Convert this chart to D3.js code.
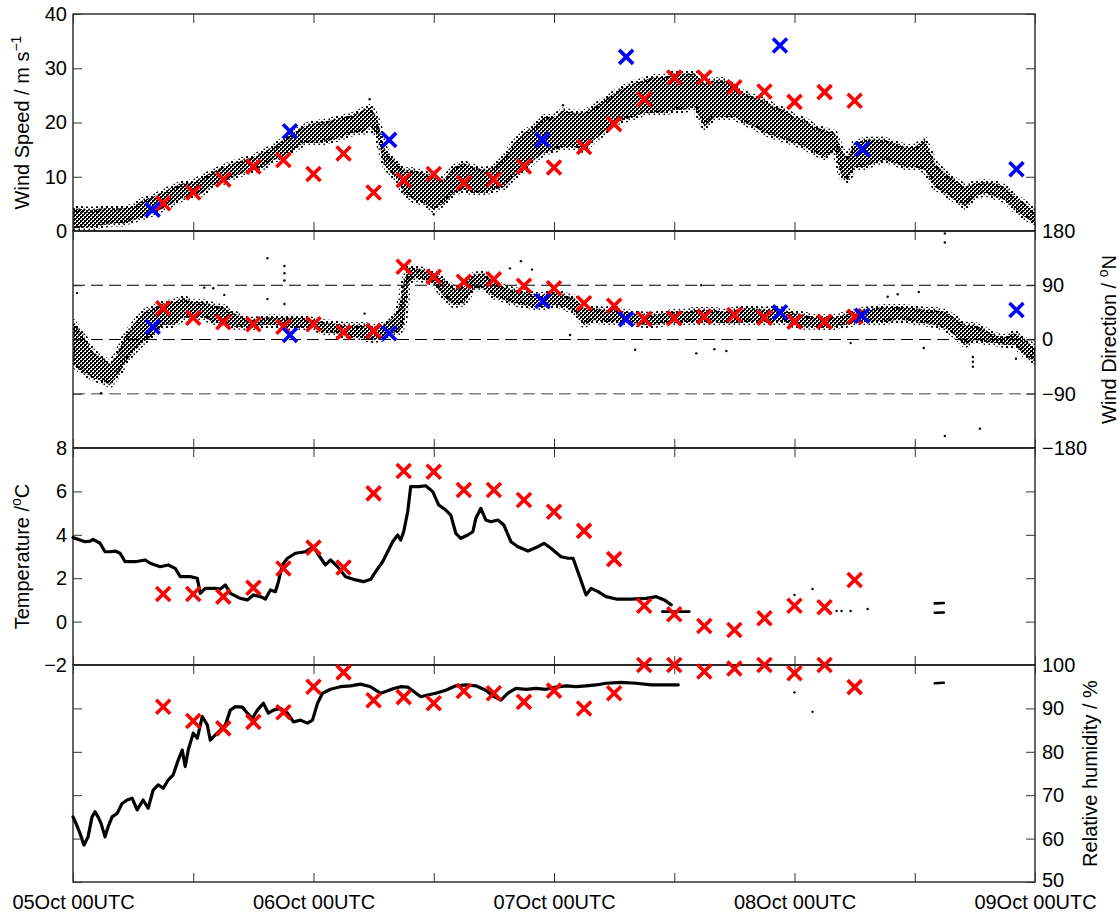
<!DOCTYPE html>
<html>
<head>
<meta charset="utf-8">
<script src="https://cdn.jsdelivr.net/npm/d3@7"></script>
<style>
  body { margin: 0; background: #fff; }
  text { font-family: "Liberation Sans", Arial, Helvetica, sans-serif; fill: #000; }
</style>
</head>
<body>
<svg id="chart" width="1119" height="913"></svg>
<script>
// ---- time axis (hours after 05 Oct 00UTC) ----
const xTickHours = [0, 12, 24, 36, 48, 60, 72, 84, 96];
const dayHours = [0, 24, 48, 72, 96];
const dayLabels = ["05Oct 00UTC", "06Oct 00UTC", "07Oct 00UTC", "08Oct 00UTC", "09Oct 00UTC"];

// ---- y tick values ----
const speedTicks = [0, 10, 20, 30, 40];
const dirTicks = [-180, -90, 0, 90, 180];
const dirTickLabels = ["\u2212180", "\u221290", "0", "90", "180"];
const tempTicks = [-2, 0, 2, 4, 6, 8];
const tempTickLabels = ["\u22122", "0", "2", "4", "6", "8"];
const rhTicks = [50, 60, 70, 80, 90, 100];
const dirGuides = [90, 0, -90];

// ---- ship observations (red) every 3 h ----
const obsHours = [9, 12, 15, 18, 21, 24, 27, 30, 33, 36, 39, 42, 45, 48, 51, 54, 57, 60, 63, 66, 69, 72, 75, 78];
const obsSpeed = [5.1, 7.1, 9.5, 11.9, 13.1, 10.5, 14.3, 7.1, 9.4, 10.5, 8.9, 9.5, 11.9, 11.7, 15.5, 19.7, 24.3, 28.3, 28.3, 26.5, 25.7, 23.8, 25.6, 24.0];
const obsDir = [51.7, 36.2, 28.5, 25.2, 21.3, 25.2, 11.9, 14.3, 120.8, 104.2, 95.9, 99.8, 89.3, 84.9, 60.0, 56.1, 34.0, 35.2, 37.8, 40.6, 36.2, 29.5, 29.5, 37.8];
const obsTemp = [1.27, 1.27, 1.15, 1.56, 2.45, 3.41, 2.49, 5.91, 6.94, 6.91, 6.06, 6.06, 5.60, 5.06, 4.18, 2.88, 0.73, 0.34, -0.20, -0.39, 0.15, 0.73, 0.66, 1.92];
const obsRH = [90.4, 87.1, 85.4, 86.9, 89.1, 95.0, 98.3, 91.9, 92.6, 91.2, 94.0, 93.5, 91.5, 94.1, 90.0, 93.5, 100, 100, 98.5, 99.2, 100, 98.1, 100, 94.9];

// ---- satellite retrievals (blue) ----
const satHours = [7.95, 21.65, 31.55, 46.85, 55.2, 70.55, 78.75, 94.15];
const satSpeed = [3.9, 18.4, 16.8, 16.8, 32.1, 34.2, 15.1, 11.4];
const satDir = [21.2, 7.5, 10.3, 63.9, 33.5, 45.1, 39.5, 48.9];

// ---- 1-min wind speed spread: [hour, low, high] ----
const windSpeedRange = [
  [0, 0.5, 4.2], [1, 0.6, 4.0], [2, 0.7, 3.9], [3, 1.1, 4.2], [4, 1.4, 4.2], [5, 1.4, 4.2],
  [6, 2.0, 4.5], [7, 2.6, 5.7], [8, 3.3, 6.3], [9, 4.2, 7.2], [10, 5.1, 8.1], [11, 6.1, 8.8],
  [12, 6.6, 9.0], [13, 7.0, 10.0], [14, 8.5, 10.9], [15, 9.0, 11.8], [16, 10.0, 12.5], [17, 10.7, 13.1],
  [18, 11.2, 13.6], [19, 11.8, 14.6], [20, 13.1, 15.5], [21, 13.6, 16.8], [22, 14.9, 18.1], [23, 16.2, 19.2],
  [24, 16.2, 19.9], [25, 16.4, 20.1], [26, 16.8, 20.5], [27, 17.4, 21.0], [28, 18.1, 21.4], [29, 18.3, 22.3],
  [29.7, 19.2, 22.9], [30.4, 17.4, 20.5], [31.0, 12.5, 15.5], [31.7, 10.7, 13.6], [32.4, 9.4, 12.5],
  [33, 7.0, 11.2], [34, 5.7, 11.2], [35, 5.1, 10.7], [36, 3.9, 10.0], [37, 5.1, 9.4], [38, 7.0, 11.8],
  [39, 7.6, 12.5], [40, 7.0, 11.8], [41, 7.0, 11.2], [42, 7.6, 11.8], [43, 8.1, 13.6], [44, 10.0, 16.2],
  [45, 11.2, 18.1], [46, 13.1, 19.2], [47, 14.4, 21.0], [48, 14.9, 21.0], [49, 15.5, 22.3], [50, 15.5, 21.8],
  [51, 14.9, 21.8], [52, 16.8, 22.9], [53, 18.1, 24.1], [54, 19.9, 25.4], [55, 20.5, 26.5], [56, 21.0, 27.3],
  [57, 21.8, 27.8], [58, 21.8, 28.4], [59, 21.8, 28.4], [60, 22.3, 29.1], [61, 22.3, 29.0], [62, 22.9, 29.1],
  [63, 19.2, 27.3], [64, 21.0, 27.8], [65, 21.0, 27.8], [66, 21.0, 26.5], [67, 19.9, 25.4], [68, 19.2, 24.7],
  [69, 18.1, 24.1], [70, 17.4, 22.9], [71, 16.8, 22.3], [72, 16.2, 21.0], [73, 15.5, 20.5], [74, 14.4, 19.2],
  [75, 13.6, 18.6], [76, 14.9, 18.1], [76.7, 10.0, 14.9], [77.3, 9.4, 13.6], [78, 11.8, 16.2], [79, 11.8, 16.8],
  [80, 12.5, 16.8], [81, 13.1, 16.8], [82, 12.5, 16.2], [83, 11.8, 15.5], [84, 11.8, 15.5], [85, 11.2, 16.8],
  [86, 8.1, 12.5], [87, 7.0, 10.7], [88, 5.7, 9.4], [89, 4.5, 8.1], [90, 6.3, 8.8], [91, 7.0, 9.0],
  [92, 6.3, 8.8], [93, 5.7, 8.1], [94, 3.9, 6.3], [95, 2.6, 5.1], [96, 1.4, 3.5]
];
const windSpeedStray = [[29.6, 24.3], [48.9, 23.2], [36.0, 3.1]];

// ---- 1-min wind direction spread: [hour, low, high] ----
const windDirRange = [
  [0, -42, 29], [1, -54, 7], [2, -64, -21], [3, -70, -31], [3.7, -75, -42], [4.5, -59, -21],
  [5.2, -38, 7], [6, -21, 24], [7, -4, 46], [8, 7, 52], [9, 24, 60], [10, 24, 62], [11, 36, 69],
  [12, 36, 62], [13, 37, 62], [14, 29, 57], [15, 27, 54], [16, 21, 44], [17, 21, 36], [18, 19, 32],
  [19, 24, 36], [20, 24, 37], [21, 21, 36], [22, 19, 36], [23, 19, 36], [24, 19, 32], [25, 12, 29],
  [26, 11, 27], [27, 7, 24], [28, 4, 24], [29, 2, 24], [30, -1, 21], [31, 2, 24], [32, 11, 37],
  [32.5, 12, 52], [33, 24, 95], [33.5, 95, 119], [34, 102, 119], [35, 99, 115], [36, 94, 110],
  [37, 71, 99], [38, 57, 85], [39, 60, 87], [40, 85, 107], [41, 85, 110], [42, 71, 95], [43, 66, 87],
  [44, 60, 82], [45, 57, 79], [46, 54, 74], [47, 54, 74], [48, 57, 79], [49, 54, 74], [50, 46, 69],
  [51, 24, 52], [52, 32, 52], [53, 29, 49], [54, 29, 52], [55, 27, 46], [56, 27, 44], [57, 24, 41],
  [58, 24, 41], [59, 27, 44], [60, 27, 46], [61, 29, 46], [62, 29, 49], [63, 29, 49], [64, 29, 49],
  [65, 27, 46], [66, 27, 49], [67, 29, 52], [68, 29, 52], [69, 29, 49], [70, 29, 52], [71, 29, 49],
  [72, 24, 44], [73, 21, 41], [74, 21, 37], [75, 19, 37], [76, 21, 37], [77, 24, 41], [78, 27, 46],
  [79, 29, 49], [80, 29, 52], [81, 29, 54], [82, 32, 54], [83, 32, 54], [84, 29, 52], [85, 27, 49],
  [86, 24, 49], [87, 19, 46], [88, 7, 36], [89, -9, 24], [90, -1, 24], [91, -4, 16], [92, -6, 7],
  [93, -9, 4], [94, -9, 11], [95, -26, -1], [96, -37, -14]
];
const windDirStray = [
  [0.4, 77], [13.1, 86], [14.0, 85], [15.1, 74], [19.4, 135], [19.4, 67], [21.1, 122], [21.1, 110],
  [21.1, 98], [21.1, 59], [2.8, -89], [29.1, 43], [44.7, 130], [45.8, 116], [43.6, 118], [49.6, 7.5],
  [56.1, -17], [62.2, -23], [62.7, 90], [64.0, -16], [65.2, -19], [87.0, 176], [87.0, 161], [87.0, -160],
  [90.5, -148], [89.8, -29], [89.8, -37], [89.8, -45], [77.6, -6], [84.9, -14], [81.3, 71], [82.3, 75],
  [84.4, 79], [94.1, -32]
];

// ---- air temperature trace: [hour, degC] ----
const tempTrace = [
  [0, 3.87], [0.7, 3.76], [1.2, 3.68], [1.7, 3.71], [2, 3.79], [2.7, 3.61], [3.2, 3.22], [3.7, 3.22],
  [4.2, 3.25], [4.7, 3.15], [5.2, 2.76], [6.2, 2.76], [7.2, 2.84], [7.7, 2.69], [8.7, 2.53], [9.5, 2.61],
  [10.2, 2.45], [10.7, 2.07], [11.7, 2.07], [12.4, 2.0], [12.7, 1.30], [13.2, 1.53], [14.2, 1.53],
  [14.7, 1.5], [15.2, 1.69], [15.7, 1.30], [16.7, 1.07], [17.4, 1.0], [18, 1.23], [18.7, 1.15],
  [19.2, 1.04], [19.7, 1.46], [20.2, 1.38], [20.5, 1.84], [20.9, 2.61], [21.4, 2.92], [22.2, 3.15],
  [23.2, 3.22], [24, 3.45], [24.5, 3.07], [25.2, 2.61], [25.7, 2.84], [26.4, 2.53], [27.2, 2.07],
  [28.2, 1.92], [29.0, 1.84], [29.7, 1.95], [30.2, 2.30], [30.9, 2.76], [31.4, 3.22], [31.9, 3.68],
  [32.4, 3.99], [32.7, 3.76], [33.0, 4.14], [33.4, 5.06], [33.7, 6.22], [34.5, 6.22], [35.2, 6.26],
  [35.9, 5.99], [36.5, 5.37], [37.2, 5.14], [37.7, 4.91], [38.2, 4.07], [38.7, 3.84], [39.4, 3.99],
  [39.9, 4.14], [40.2, 4.76], [40.7, 5.22], [41.2, 4.68], [41.7, 4.60], [42.4, 4.68], [43.0, 4.45],
  [43.7, 3.68], [44.4, 3.45], [45.4, 3.25], [46.4, 3.45], [47.0, 3.61], [47.7, 3.38], [48.7, 2.99],
  [49.4, 2.92], [49.9, 2.92], [50.5, 2.15], [51.2, 1.23], [51.7, 1.53], [52.4, 1.38], [53.2, 1.15],
  [54.2, 1.04], [55.7, 1.04], [57.2, 1.07], [58.2, 1.15], [59.0, 1.0], [59.7, 0.77]
];
const tempPieces = [[[58.8, 0.46], [61.5, 0.46]], [[86.0, 0.84], [86.9, 0.86]], [[86.0, 0.41], [86.9, 0.42]]];
const tempStray = [[72.0, 1.23], [73.8, 1.50], [76.2, 0.49], [76.7, 0.49], [77.6, 0.49], [79.3, 0.58]];

// ---- relative humidity trace: [hour, %] ----
const rhTrace = [
  [0, 65.0], [0.3, 63.5], [0.7, 61.2], [1.1, 58.5], [1.5, 60.4], [1.9, 65.0], [2.2, 66.2], [2.5, 65.0],
  [2.8, 63.5], [3.2, 60.4], [3.5, 62.7], [3.9, 65.0], [4.4, 65.8], [4.9, 68.1], [5.4, 68.9], [5.9, 69.3],
  [6.4, 66.6], [7.0, 68.9], [7.5, 67.0], [8.0, 71.2], [8.5, 72.4], [9.0, 71.6], [9.5, 73.5], [10.0, 74.7],
  [10.5, 78.1], [10.9, 80.4], [11.2, 76.6], [11.5, 80.4], [12.0, 84.3], [12.4, 83.1], [12.9, 88.1],
  [13.4, 86.2], [13.7, 82.7], [14.2, 83.9], [14.7, 85.0], [15.2, 86.2], [15.7, 89.6], [16.2, 90.4],
  [16.9, 90.3], [17.4, 88.9], [17.9, 87.7], [18.4, 89.6], [19.0, 91.2], [19.5, 88.9], [20.0, 89.6],
  [20.7, 90.0], [21.4, 88.9], [22.0, 86.9], [22.7, 87.3], [23.4, 86.6], [23.9, 87.3], [24.4, 91.2],
  [24.9, 93.5], [25.7, 94.4], [26.7, 95.0], [27.7, 95.2], [28.7, 95.6], [29.7, 95.0], [30.2, 94.2],
  [30.7, 93.5], [31.2, 93.9], [32.0, 94.6], [32.7, 95.0], [33.4, 94.9], [34.0, 93.9], [34.7, 92.7],
  [35.4, 93.1], [36.2, 93.5], [37.2, 94.2], [38.2, 95.2], [39.2, 95.4], [40.2, 95.2], [41.2, 94.2],
  [42.0, 92.7], [42.7, 91.9], [43.4, 93.5], [44.2, 94.6], [45.2, 94.4], [46.2, 94.6], [47.2, 94.4],
  [48.2, 94.9], [49.2, 95.2], [50.2, 95.0], [51.2, 95.2], [52.2, 95.4], [53.2, 95.8], [54.7, 96.0],
  [56.2, 95.8], [57.7, 95.4], [58.7, 95.4], [59.7, 95.4], [60.4, 95.4]
];
const rhPieces = [[[86.0, 95.8], [86.9, 95.9]]];
const rhStray = [[72.0, 93.7], [73.8, 89.2]];

// ---------------------------------------------------------------
const svg = d3.select("#chart");
const plotLeft = 73, plotRight = 1035, panelH = 217;
const fontSize = 20;
const x = d3.scaleLinear().domain([0, 96]).range([plotLeft, plotRight]);

const panels = [
  { id: "speed", top: 14, domain: [0, 40], ticks: speedTicks, labels: speedTicks.map(String), side: "left" },
  { id: "dir", top: 231, domain: [-180, 180], ticks: dirTicks, labels: dirTickLabels, side: "right" },
  { id: "temp", top: 448, domain: [-2, 8], ticks: tempTicks, labels: tempTickLabels, side: "left" },
  { id: "rh", top: 665, domain: [50, 100], ticks: rhTicks, labels: rhTicks.map(String), side: "right" }
];
panels.forEach(p => { p.y = d3.scaleLinear().domain(p.domain).range([p.top + panelH, p.top]); });

const defs = svg.append("defs");
// dense dot texture for the 1-min scatter clouds
const pat = defs.append("pattern").attr("id", "stipple")
  .attr("patternUnits", "userSpaceOnUse").attr("width", 4).attr("height", 4);
[[0, 0, 2, 2], [2, 2, 2, 2], [2, 0, 1, 1], [0, 2, 1, 1]].forEach(([a, b, w, h]) =>
  pat.append("rect").attr("x", a).attr("y", b).attr("width", w).attr("height", h).attr("fill", "#000"));
// sparse dot texture for the ragged cloud edges
const sparse = defs.append("pattern").attr("id", "sparse")
  .attr("patternUnits", "userSpaceOnUse").attr("width", 5).attr("height", 5);
sparse.append("rect").attr("x", 1).attr("y", 1).attr("width", 2).attr("height", 2).attr("fill", "#000");
sparse.append("rect").attr("x", 3.5).attr("y", 3.5).attr("width", 1.5).attr("height", 1.5).attr("fill", "#000");

panels.forEach(p => {
  defs.append("clipPath").attr("id", "clip-" + p.id)
    .append("rect").attr("x", plotLeft).attr("y", p.top).attr("width", plotRight - plotLeft).attr("height", panelH);
});

const P = Object.fromEntries(panels.map(p => [p.id, p]));

// dashed guide lines in wind direction panel
svg.append("g").selectAll("line").data(dirGuides).join("line")
  .attr("x1", plotLeft).attr("x2", plotRight)
  .attr("y1", d => P.dir.y(d)).attr("y2", d => P.dir.y(d))
  .attr("stroke", d => d === -90 ? "#808080" : "#000")
  .attr("stroke-width", d => d === -90 ? 1.5 : 1)
  .attr("stroke-dasharray", "12,6");

// scatter envelopes
function band(panel, data) {
  const area = d3.area().x(d => x(d[0])).y0(d => panel.y(d[1])).y1(d => panel.y(d[2]));
  svg.append("path").datum(data).attr("clip-path", `url(#clip-${panel.id})`)
    .attr("d", area).attr("fill", "url(#stipple)")
    .attr("stroke", "url(#sparse)").attr("stroke-width", 6).attr("stroke-linejoin", "round");
}
function stray(panel, data, r) {
  svg.append("g").attr("clip-path", `url(#clip-${panel.id})`).selectAll("circle").data(data).join("circle")
    .attr("cx", d => x(d[0])).attr("cy", d => panel.y(d[1])).attr("r", r).attr("fill", "#000");
}
function trace(panel, data, w) {
  const line = d3.line().x(d => x(d[0])).y(d => panel.y(d[1]));
  svg.append("path").datum(data).attr("d", line).attr("fill", "none")
    .attr("stroke", "#000").attr("stroke-width", w).attr("stroke-linejoin", "round").attr("stroke-linecap", "round");
}

band(P.speed, windSpeedRange);
stray(P.speed, windSpeedStray, 1.2);
band(P.dir, windDirRange);
stray(P.dir, windDirStray, 1.2);
trace(P.temp, tempTrace, 3.2);
tempPieces.forEach(s => trace(P.temp, s, 2.6));
stray(P.temp, tempStray, 1.2);
trace(P.rh, rhTrace, 3.2);
rhPieces.forEach(s => trace(P.rh, s, 2.6));
stray(P.rh, rhStray, 1.2);

// panel frames and axes
panels.forEach((p, i) => {
  svg.append("rect").attr("x", plotLeft).attr("y", p.top).attr("width", plotRight - plotLeft).attr("height", panelH)
    .attr("fill", "none").attr("stroke", "#000").attr("stroke-width", 1.2);

  const top = svg.append("g").attr("transform", `translate(0,${p.top})`)
    .call(d3.axisTop(x).tickValues(xTickHours).tickSizeInner(-9).tickSizeOuter(0).tickFormat(""));
  const isLast = i === panels.length - 1;
  const bottom = svg.append("g").attr("transform", `translate(0,${p.top + panelH})`)
    .call(d3.axisBottom(x).tickValues(xTickHours).tickSizeInner(-9).tickSizeOuter(0).tickPadding(13)
      .tickFormat(h => isLast && dayHours.includes(h) ? dayLabels[dayHours.indexOf(h)] : ""));

  const lab = h => p.labels[p.ticks.indexOf(h)];
  const leftAx = d3.axisLeft(p.y).tickValues(p.ticks).tickSizeInner(-9).tickSizeOuter(0).tickPadding(6)
    .tickFormat(p.side === "left" ? lab : () => "");
  const rightAx = d3.axisRight(p.y).tickValues(p.ticks).tickSizeInner(-9).tickSizeOuter(0).tickPadding(7)
    .tickFormat(p.side === "right" ? lab : () => "");
  const l = svg.append("g").attr("transform", `translate(${plotLeft},0)`).call(leftAx);
  const r = svg.append("g").attr("transform", `translate(${plotRight},0)`).call(rightAx);

  [top, bottom, l, r].forEach(g => {
    g.select(".domain").remove();
    g.selectAll(".tick line").attr("stroke", "#333").attr("stroke-width", 1);
    g.selectAll(".tick text").filter(function () { return this.textContent === ""; }).remove();
    g.selectAll("text").attr("font-size", fontSize).attr("fill", "#000");
  });
  // the lowest right-hand label sits just above the date labels
  if (isLast) r.selectAll(".tick text").filter(function () { return this.textContent === "50"; }).attr("dy", "0.2em");
});

// observation crosses
function crosses(panel, hours, values, color) {
  svg.append("g").selectAll("path").data(hours.map((h, k) => [h, values[k]])).join("path")
    .attr("transform", d => `translate(${x(d[0])},${panel.y(d[1])})`)
    .attr("d", "M-7,-7L7,7M7,-7L-7,7")
    .attr("stroke", color).attr("stroke-width", 3.6).attr("fill", "none");
}
crosses(P.speed, obsHours, obsSpeed, "#ff0000");
crosses(P.dir, obsHours, obsDir, "#ff0000");
crosses(P.temp, obsHours, obsTemp, "#ff0000");
crosses(P.rh, obsHours, obsRH, "#ff0000");
crosses(P.speed, satHours, satSpeed, "#0000ff");
crosses(P.dir, satHours, satDir, "#0000ff");

// axis titles; parts are [text, isSuperscript]
function title(xPos, yPos, parts) {
  const t = svg.append("text").attr("transform", `translate(${xPos},${yPos}) rotate(-90)`)
    .attr("text-anchor", "middle").attr("font-size", fontSize);
  let raised = false;
  parts.forEach(([s, sup]) => {
    const span = t.append("tspan").text(s);
    if (sup && !raised) { span.attr("font-size", 14).attr("dy", -8); raised = true; }
    else if (!sup && raised) { span.attr("dy", 8); raised = false; }
  });
}
title(29, 122.5, [["Wind Speed / m s"], ["\u22121", true]]);
title(1116, 339.5, [["Wind Direction / "], ["o", true], ["N"]]);
title(29, 556.5, [["Temperature /"], ["o", true], ["C"]]);
title(1097, 773.5, [["Relative humidity / %"]]);
</script>
</body>
</html>
